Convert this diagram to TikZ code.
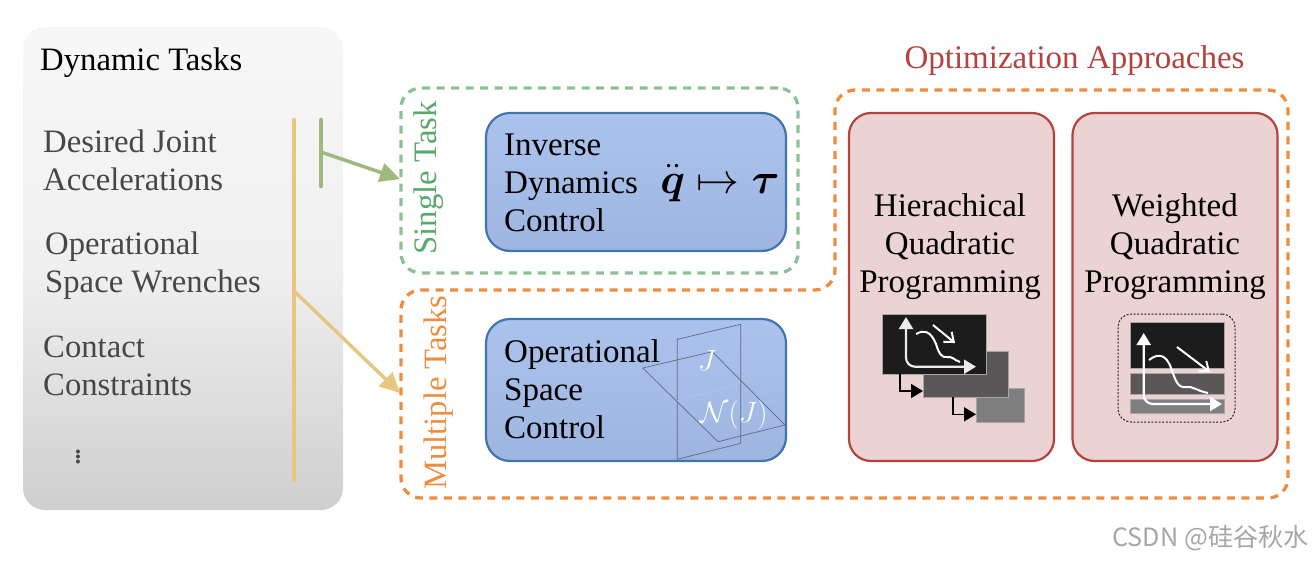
\documentclass[tikz,border=0pt]{standalone}
\usepackage{amsmath, amssymb, amsfonts}
\usepackage{fontspec}
\usepackage{xcolor}
\setmainfont{Liberation Serif}
\newfontfamily\cjkmark{Noto Sans CJK SC}
\usetikzlibrary{arrows.meta, positioning}

\definecolor{taskgreen}{HTML}{8CC196}
\definecolor{labelgreen}{HTML}{5AA86C}
\definecolor{taskorange}{HTML}{EE8D3F}
\definecolor{barye}{HTML}{E6C680}
\definecolor{bargr}{HTML}{9DBA7C}
\definecolor{blueedge}{HTML}{4274B0}
\definecolor{bluetop}{HTML}{ABC3EC}
\definecolor{bluebot}{HTML}{9DB5E0}
\definecolor{redfill}{HTML}{EBD2D3}
\definecolor{rededge}{HTML}{B5423F}
\definecolor{planeline}{HTML}{5F6C80}
\definecolor{platedark}{HTML}{1C1C1C}
\definecolor{platemid}{HTML}{595757}
\definecolor{platelow}{HTML}{7F7F7F}

\tikzset{
    bigtext/.style={font=\fontsize{33}{38}\selectfont, inner sep=0pt},
    leftlabel/.style={font=\fontsize{32.7}{38}\selectfont, inner sep=0pt, anchor=west, align=left, text=black!72},
    mathtext/.style={font=\Huge, inner sep=0pt},
    ctrlbox/.style={draw=blueedge, line width=2.2pt, rounded corners=24pt, top color=bluetop, bottom color=bluebot, minimum width=300pt, inner sep=0pt},
    optbox/.style={draw=rededge, line width=2.2pt, fill=redfill, rounded corners=22pt, minimum width=205pt, minimum height=348pt, inner sep=0pt},
    plate/.style={inner sep=0pt, draw=black!35, line width=0.5pt},
    axisline/.style={draw=white!92!black, line width=2.2pt, rounded corners=9pt, {Triangle[length=12pt,width=14pt]}-{Triangle[length=12pt,width=14pt]}},
    curveline/.style={draw=white, line width=2pt},
    slopearrow/.style={draw=white, line width=2pt, -{Straight Barb[length=8pt,width=13pt]}},
    stepline/.style={draw=black, line width=1.6pt, -{Triangle[length=12pt,width=14pt]}},
    planeedge/.style={draw=planeline, line width=0.7pt}
}

\begin{document}
\begin{tikzpicture}[x=1pt, y=-1pt]
    \useasboundingbox (0,0) rectangle (1314,560);

    % Dynamic tasks panel
    \node[rounded corners=22pt, top color=black!3, bottom color=black!19, middle color=black!6, minimum width=320pt, minimum height=483pt, inner sep=0pt] (taskpanel) at (183,268.5) {};
    \node[leftlabel, anchor=base west, text=black] (tasktitle) at (40,70) {Dynamic Tasks};
    \node[leftlabel] (jointlabel) at (43,160) {Desired Joint\\Accelerations};
    \node[leftlabel] (wrenchlabel) at (45,265.5) {Operational\\Space Wrenches};
    \node[leftlabel] (contactlabel) at (43,365.5) {Contact\\Constraints};
    \node[mathtext, text=black!72, scale=1.35] (moredots) at (78,453) {$\vdots$};

    % Task bars and arrows
    \coordinate (yellowtop) at (294,120);
    \coordinate (yellowbot) at (294,480);
    \coordinate (yellowjoin) at (294,291);
    \coordinate (greentop) at (321,120);
    \coordinate (greenbot) at (321,186);
    \coordinate (greenjoin) at (321,152);
    \coordinate (singleend) at (400,179);
    \coordinate (multiend) at (400,393);
    \draw[barye, line width=4.5pt, line cap=round] (yellowtop) -- (yellowbot);
    \draw[bargr, line width=4.5pt, line cap=round] (greentop) -- (greenbot);
    \draw[bargr, line width=3.5pt, -{Triangle[length=20pt,width=19pt]}] (greenjoin) -- (singleend);
    \draw[barye, line width=3.5pt, -{Triangle[length=20pt,width=19pt]}] (yellowjoin) -- (multiend);

    % Single task frame
    \node[draw=taskgreen, line width=3.3pt, dash pattern=on 8pt off 6.5pt, rounded corners=20pt, minimum width=397pt, minimum height=185pt, inner sep=0pt] (singleframe) at (599.5,180.5) {};
    \node[font=\fontsize{32.8}{36}\selectfont, text=labelgreen, rotate=90, inner sep=0pt] (singlelabel) at (429,178) {Single Task};

    % Multiple tasks and optimization frame
    \coordinate (f1) at (401,290);
    \coordinate (f2) at (835,290);
    \coordinate (f3) at (835,90);
    \coordinate (f4) at (1288,90);
    \coordinate (f5) at (1288,498);
    \coordinate (f6) at (401,498);
    \draw[taskorange, line width=3.3pt, dash pattern=on 8pt off 6.5pt, rounded corners=20pt] (f1) -- (f2) -- (f3) -- (f4) -- (f5) -- (f6) -- cycle;
    \node[font=\fontsize{32.6}{36}\selectfont, text=taskorange, rotate=90, inner sep=0pt] (multilabel) at (439,392.5) {Multiple Tasks};
    \node[bigtext, text=rededge] (opttitle) at (1074.5,61) {Optimization Approaches};

    % Control boxes
    \node[ctrlbox, minimum height=138pt] (idcbox) at (636,182) {};
    \node[ctrlbox, minimum height=142pt] (oscbox) at (636,390) {};
    \node[bigtext, anchor=west, align=left] (idclabel) at (504,182.5) {Inverse\\Dynamics\\Control};
    \node[mathtext, scale=1.72] (idcmap) at (720,183) {$\ddot{\boldsymbol{q}} \mapsto \boldsymbol{\tau}$};

    % Null space planes
    \coordinate (p1) at (677.3,339.3);
    \coordinate (p2) at (740.7,324.3);
    \coordinate (p3) at (740.7,443.3);
    \coordinate (p4) at (677.3,459.3);
    \coordinate (q1) at (642.7,368);
    \coordinate (q2) at (712.3,351.7);
    \coordinate (q3) at (785,425);
    \coordinate (q4) at (718,441.7);
    \coordinate (s1) at (677.3,400.7);
    \coordinate (s2) at (740,383.3);
    \draw[planeedge] (p1) -- (p2) -- (p3) -- (p4) -- cycle;
    \draw[planeedge] (q1) -- (q2) -- (q3) -- (q4) -- cycle;
    \draw[white!80!blue, line width=0.8pt, dotted] (s1) -- (s2);
    \node[bigtext, anchor=west, align=left] (osclabel) at (504,389.5) {Operational\\Space\\Control};
    \node[mathtext, text=white, scale=1.17] (jlabel) at (707,361) {$J$};
    \node[mathtext, text=white, scale=1.17] (nlabel) at (734,415) {$\mathcal{N}(J)$};

    % Optimization boxes
    \node[optbox] (hqpbox) at (951.5,287) {};
    \node[optbox] (wqpbox) at (1175,287) {};
    \node[bigtext, align=center] (hqplabel) at (950,247) {Hierachical\\Quadratic\\Programming};
    \node[bigtext, align=center] (wqplabel) at (1175,247) {Weighted\\Quadratic\\Programming};

    % Hierarchical icon
    \node[plate, fill=platelow, minimum width=48pt, minimum height=34pt] (lowplate) at (1000,405) {};
    \node[plate, fill=platemid, minimum width=85pt, minimum height=46pt] (midplate) at (965.5,374) {};
    \node[plate, fill=platedark, minimum width=104pt, minimum height=60pt] (topplate) at (934,344) {};
    \coordinate (hup) at (906,317);
    \coordinate (hcorner) at (906,366.7);
    \coordinate (hright) at (976,366.7);
    \coordinate (harrowa) at (933,325);
    \coordinate (harrowb) at (955,343);
    \coordinate (hstepa) at (900,374);
    \coordinate (hstepb) at (923,391);
    \coordinate (hstepc) at (953,397);
    \coordinate (hstepd) at (976,414.3);
    \draw[axisline] (hup) -- (hcorner) -- (hright);
    \draw[curveline] (916,334) .. controls (925,329) and (931,332) .. (936,344) .. controls (939,354) and (942,358) .. (947,357) .. controls (952,356) and (954,360) .. (960,362);
    \draw[slopearrow] (harrowa) -- (harrowb);
    \draw[stepline] (hstepa) |- (hstepb);
    \draw[stepline] (hstepc) |- (hstepd);

    % Weighted icon
    \node[draw=black!85, line width=1pt, dash pattern=on 2pt off 1.6pt, rounded corners=13pt, minimum width=117pt, minimum height=108pt, inner sep=0pt] (wframe) at (1176.5,368) {};
    \node[plate, fill=platedark, minimum width=94pt, minimum height=46pt] (wtop) at (1177,345) {};
    \node[plate, fill=platemid, minimum width=94pt, minimum height=21pt] (wmid) at (1177,383.5) {};
    \node[plate, fill=platelow, minimum width=94pt, minimum height=14pt] (wlow) at (1177,406) {};
    \coordinate (wup) at (1143.7,333);
    \coordinate (wcorner) at (1143.7,404);
    \coordinate (wright) at (1222,404);
    \coordinate (warrowa) at (1177,347);
    \coordinate (warrowb) at (1210,372);
    \draw[axisline, draw=white] (wup) -- (wcorner) -- (wright);
    \draw[curveline] (1149,360) .. controls (1158,353) and (1166,354) .. (1171,368) .. controls (1176,382) and (1178,388) .. (1186,387) .. controls (1193,386) and (1197,391) .. (1208,393);
    \draw[slopearrow] (warrowa) -- (warrowb);

    % Corner mark
    \node[text=black!35, font=\cjkmark\fontsize{25.2}{28}\selectfont, inner sep=0pt, anchor=east] (cornermark) at (1309,538) {CSDN @硅谷秋水};
\end{tikzpicture}
\end{document}
